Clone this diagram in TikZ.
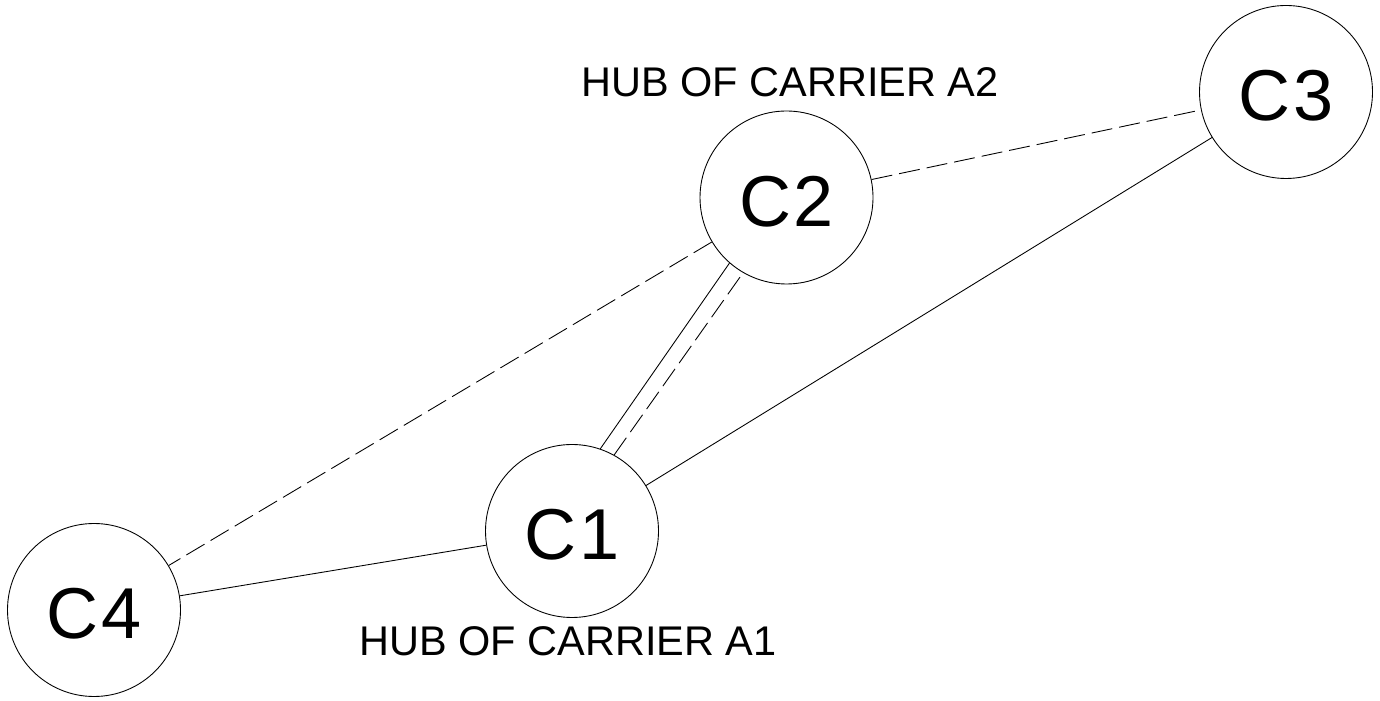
\documentclass[tikz,border=0pt]{standalone}
\usepackage{fontspec}
\setmainfont{Liberation Sans}
\newfontfamily\carrierfont[LetterSpace=4]{Liberation Sans}
\begin{document}
\begin{tikzpicture}[
  carrier/.style={draw, circle, line width=0.5pt, minimum size=3.46cm, inner sep=0pt, text height=33pt, text depth=0pt, font=\carrierfont\fontsize{41}{41}\selectfont},
  hublabel/.style={font=\fontsize{23.6}{24}\selectfont, inner sep=0pt},
  link/.style={line width=0.5pt},
  codelink/.style={line width=0.5pt, dash pattern=on 12pt off 4pt}
]
\useasboundingbox (0,0) rectangle (27.6,14);
% carriers
\node[carrier] (c1) at (11.44,3.38) {C1};
\node[carrier] (c2) at (15.73,10.05) {C2};
\node[carrier] (c3) at (25.72,12.16) {C3};
\node[carrier] (c4) at (1.88,1.80) {C4};
% hub labels
\node[hublabel] (hubA2) at (15.8,12.35) {HUB OF CARRIER A2};
\node[hublabel] (hubA1) at (11.36,1.18) {HUB OF CARRIER A1};
% links
\draw[codelink] (c2) -- (c3);
\draw[link] (c3) -- (c1);
\draw[codelink] (c2) -- (c4);
\draw[link] (c4) -- (c1);
\draw[link] (c1.71) -- (c2.229);
\draw[codelink] (c1.61) -- (c2.240);
\end{tikzpicture}
\end{document}
